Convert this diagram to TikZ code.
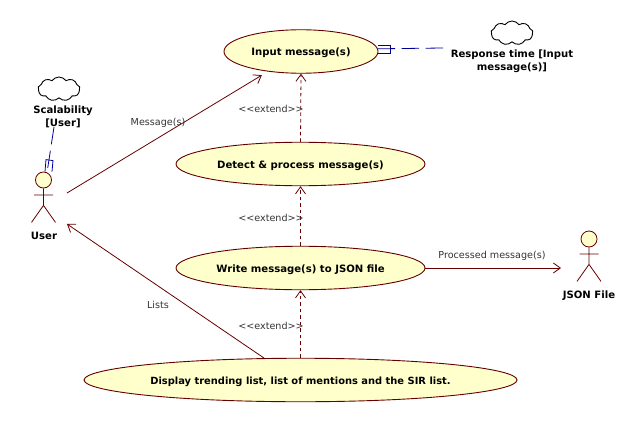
\documentclass[tikz,border=0pt]{standalone}
\usepackage{fontspec}
\setmainfont{DejaVu Sans}
\usetikzlibrary{arrows.meta,shapes.geometric,shapes.symbols}
\definecolor{umlline}{HTML}{660000}
\definecolor{umlfill}{HTML}{FFFFCC}
\definecolor{umlblue}{HTML}{000099}
\tikzset{
  usecase/.style={draw=umlline,fill=umlfill,ellipse,inner sep=0pt,line width=0.9pt,minimum height=43.5pt,text height=10pt,text depth=1pt,font=\fontsize{10.1}{12}\selectfont\bfseries},
  actorhead/.style={draw=umlline,fill=umlfill,circle,inner sep=0pt,minimum size=16pt,line width=0.8pt},
  actorname/.style={font=\fontsize{10.1}{13}\selectfont\bfseries,align=center,inner sep=0pt},
  linklabel/.style={font=\fontsize{9.6}{11}\selectfont,text=black!80,inner sep=0pt,text height=9pt,text depth=1pt},
  softgoal/.style={draw=black,cloud,cloud puffs=9,cloud puff arc=110,aspect=1.7,inner sep=0pt,minimum width=42pt,minimum height=24pt,line width=0.9pt},
  assoc/.style={draw=umlline,line width=0.8pt,-{Straight Barb[length=7pt,width=10pt]}},
  extendlink/.style={assoc,dash pattern=on 3.5pt off 3pt},
  nfrlink/.style={draw=umlblue,line width=0.8pt,dash pattern=on 17.5pt off 6.5pt}
}
\newcommand{\actorbody}[1]{
  \draw[umlline,line width=0.8pt] (#1.south) -- ++(0,17) ++(-9.5,-10.5) -- ++(19,0) ++(-9.5,10.5) -- ++(-12,17) ++(12,-17) -- ++(12,17);
}
\begin{document}
\begin{tikzpicture}[x=1pt,y=-1pt]
  \useasboundingbox (0,0) rectangle (639,422);

  % use cases
  \node[usecase,minimum width=154pt] (input) at (301,51.5) {Input message(s)};
  \node[usecase,minimum width=249pt] (detect) at (300.5,164) {Detect \& process message(s)};
  \node[usecase,minimum width=249pt] (write) at (300.5,268) {Write message(s) to JSON file};
  \node[usecase,minimum width=433pt,font=\fontsize{9.9}{12}\selectfont\bfseries] (display) at (300.5,380) {Display trending list, list of mentions and the SIR list.};

  % actors
  \node[actorhead] (user) at (43.5,180) {};
  \actorbody{user}
  \node[actorname] (username) at (44,236) {User};
  \node[actorhead] (jsonfile) at (589,239) {};
  \actorbody{jsonfile}
  \node[actorname] (jsonname) at (589,296) {JSON File};

  % free ends of the links
  \coordinate (userout) at (67,193);
  \coordinate (userin) at (67,224);
  \coordinate (jsonin) at (561,268);
  \coordinate (scalefoot) at (54,127);
  \coordinate (respfoot) at (443,48);

  % links
  \draw[assoc,shorten >=7pt] (userout) -- (input);
  \draw[assoc] (display.149) -- (userin);
  \draw[assoc] (write.east) -- (jsonin);
  \draw[extendlink] (detect.north) -- (input.south);
  \draw[extendlink] (write.north) -- (detect.south);
  \draw[extendlink] (display.north) -- (write.south);

  % link labels
  \node[linklabel] (msglabel) at (158,122) {Message(s)};
  \node[linklabel] (listslabel) at (158,304) {Lists};
  \node[linklabel] (procelabel) at (492,254) {Processed message(s)};
  \node[linklabel] (extlabela) at (271,109) {<{}<extend>{}>};
  \node[linklabel] (extlabelb) at (271,217) {<{}<extend>{}>};
  \node[linklabel] (extlabelc) at (271,325) {<{}<extend>{}>};

  % scalability goal
  \node[softgoal] (cloudscale) at (59,89) {};
  \node[actorname] (scalename) at (63,116.5) {Scalability\\{}[User]};
  \draw[nfrlink] (scalefoot) -- (user.65);
  \draw[umlblue,line width=0.8pt] (user.north) ++(1.5,0) -- ++(1,-12) -- ++(7,1) -- ++(-1,11);

  % response time goal
  \node[softgoal] (cloudresp) at (512,33) {};
  \node[actorname] (respname) at (512,61) {Response time [Input\\message(s)]};
  \draw[nfrlink] (respfoot) -- (input.2);
  \draw[umlblue,line width=0.8pt] (input.east) ++(0,-6.5) -- ++(12,0) -- ++(0,8) -- ++(-12,0);
\end{tikzpicture}
\end{document}
